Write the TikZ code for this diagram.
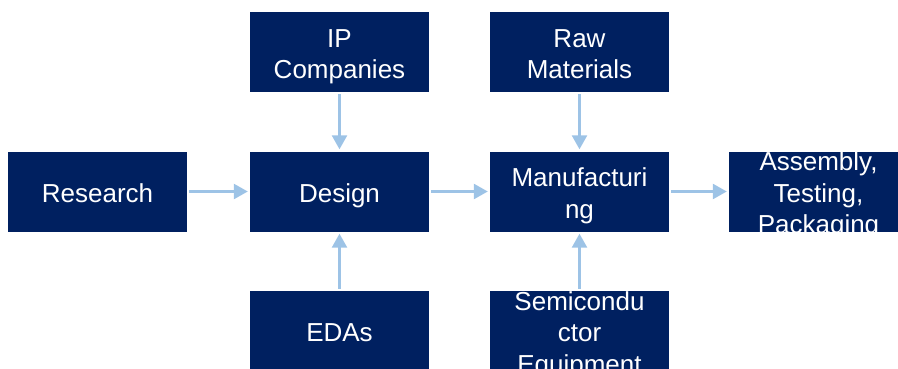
\documentclass[tikz,border=0pt]{standalone}
\usepackage{fontspec}
\setmainfont{Liberation Sans}
\usetikzlibrary{arrows.meta}
\definecolor{navy}{HTML}{002060}
\definecolor{flow}{HTML}{9DC3E6}
\begin{document}
\begin{tikzpicture}[x=1pt,y=1pt,
  box/.style={fill=navy, draw=none, inner sep=0pt,
    minimum width=179pt, minimum height=80pt},
  label/.style={text=white, align=center, inner sep=0pt,
    font=\fontsize{26pt}{31.5pt}\selectfont},
  % box whose (possibly overflowing) text is clipped to the box
  cbox/.style={box, path picture={\node[label] at ([yshift=-4.5pt]path picture bounding box.center) {#1};}},
  arr/.style={draw=flow, line width=2.5pt,
    -{Triangle[width=15pt,length=14pt]}, shorten >=2pt, shorten <=2pt}]
\useasboundingbox (0,0) rectangle (898,-369);

% main chain
\node[cbox={Research\strut}] (research) at (97.5,-191.5) {};
\node[cbox={Design\strut}] (design) at (339.5,-191.5) {};
\node[cbox={Manufacturi\strut\\ng\strut}] (manu) at (579.5,-191.5) {};
\node[cbox={Assembly,\strut\\Testing,\strut\\Packaging\strut}] (asm) at (818.5,-191.5) {};

% suppliers above and below
\node[cbox={IP\strut\\Companies\strut}] (ip) at (339.5,-52) {};
\node[cbox={Raw\strut\\Materials\strut}] (raw) at (579.5,-52) {};
\node[cbox={EDAs\strut}] (eda) at (339.5,-331) {};
\node[cbox={Semicondu\strut\\ctor\strut\\Equipment\strut}] (semi) at (579.5,-331) {};

% flows
\draw[arr] (research) -- (design);
\draw[arr] (design) -- (manu);
\draw[arr] (manu) -- (asm);
\draw[arr] (ip) -- (design);
\draw[arr] (eda) -- (design);
\draw[arr] (raw) -- (manu);
\draw[arr] (semi) -- (manu);
\end{tikzpicture}
\end{document}
